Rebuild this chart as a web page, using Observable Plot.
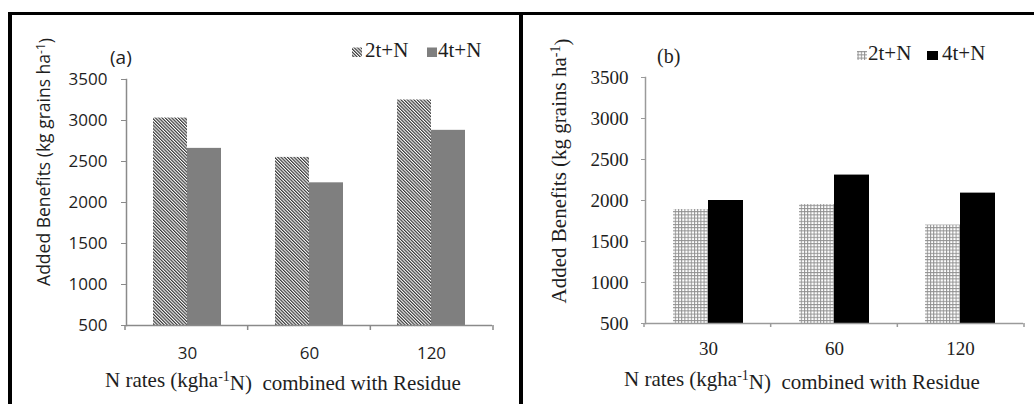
<!DOCTYPE html>
<html>
<head>
<meta charset="utf-8">
<script src="https://cdn.jsdelivr.net/npm/d3@7"></script>
<script src="https://cdn.jsdelivr.net/npm/@observablehq/plot@0.6"></script>
<style>
  html, body { margin: 0; padding: 0; background: #fff; }
  #wrap { position: relative; width: 1034px; height: 404px; overflow: hidden; background: #fff; }
  .panel { position: absolute; top: 0; }
  #overlay { position: absolute; left: 0; top: 0; pointer-events: none; }
</style>
</head>
<body>
<svg width="0" height="0" style="position:absolute">
  <defs>
    <pattern id="hatchA" patternUnits="userSpaceOnUse" width="2.3" height="2.3" patternTransform="rotate(-45)">
      <rect width="2.3" height="2.3" fill="#ffffff"></rect>
      <rect width="1.2" height="2.3" fill="#383838"></rect>
    </pattern>
    <pattern id="gridB" patternUnits="userSpaceOnUse" width="3.2" height="3.2">
      <rect width="3.2" height="3.2" fill="#ffffff"></rect>
      <path d="M0,0.5H3.2M0.5,0V3.2" stroke="#8f8f8f" stroke-width="1"></path>
    </pattern>
  </defs>
</svg>
<div id="wrap">
  <div id="panelA" class="panel" style="left:0px"></div>
  <div id="panelB" class="panel" style="left:517px"></div>
</div>
<script>
// ---- data ----
const categories = ["30", "60", "120"];
const series = ["2t+N", "4t+N"];
const benefitA2t = [3030, 2550, 3250];
const benefitA4t = [2660, 2240, 2880];
const benefitB2t = [1890, 1950, 1700];
const benefitB4t = [2000, 2310, 2090];
const yTicks = [500, 1000, 1500, 2000, 2500, 3000, 3500];
const panelLabels = ["(a)", "(b)"];
const yTitleParts = ["Added Benefits (kg grains ha", "-1", ")"];
const xTitleParts = ["N rates (kgha", "-1", "N)  combined with Residue"];

const SANS = "'Open Sans', 'DejaVu Sans', sans-serif";
const SERIF = "'Liberation Serif', 'DejaVu Serif', serif";

function makePanel(cfg) {
  const rows = categories.flatMap((c, i) => [
    {category: c, series: series[0], value: cfg.v2[i]},
    {category: c, series: series[1], value: cfg.v4[i]}
  ]);
  const plot = Plot.plot({
    width: cfg.width,
    height: 404,
    marginLeft: cfg.ml, marginRight: cfg.mr, marginTop: cfg.mt, marginBottom: cfg.mb,
    style: {fontFamily: cfg.font, fontSize: cfg.fontSize + "px", color: "#1e1e1e", background: "transparent", overflow: "visible"},
    fx: {domain: categories, padding: 0, label: null},
    x: {domain: series, paddingInner: 0, paddingOuter: cfg.po, axis: null},
    y: {domain: [500, 3500], axis: null},
    color: {domain: series, range: cfg.fills},
    marks: [
      Plot.barY(rows, {fx: "category", x: "series", y1: 500, y2: "value", fill: "series"}),
      Plot.ruleY([500], {stroke: cfg.axisColor, strokeWidth: 1.5}),
      Plot.frame({anchor: "left", facetAnchor: "left", stroke: cfg.axisColor, strokeWidth: 1.5}),
      Plot.axisY(yTicks, {tickSize: cfg.tickSize, tickPadding: cfg.tickPadding, stroke: cfg.axisColor, label: null, tickFormat: d => String(d)}),
      Plot.axisFx({anchor: "bottom", tickSize: 0, tickPadding: cfg.fxPad, label: null})
    ]
  });
  // boundary ticks of the category axis, derived from the fx scale
  const fxs = plot.scale("fx");
  const ys = plot.scale("y");
  const r0 = fxs.range[0], r1 = fxs.range[1];
  const step = (r1 - r0) / fxs.domain.length;
  const yb = ys.range[0];
  d3.select(plot).append("g")
    .attr("stroke", cfg.axisColor).attr("stroke-width", 1.5)
    .selectAll("line").data(d3.range(fxs.domain.length + 1)).join("line")
    .attr("x1", i => r0 + i * step).attr("x2", i => r0 + i * step)
    .attr("y1", yb).attr("y2", yb + cfg.tickSize);
  document.getElementById(cfg.el).appendChild(plot);
}

makePanel({
  el: "panelA", width: 517, ml: 125, mr: 24, mt: 79, mb: 79, po: 0.752,
  v2: benefitA2t, v4: benefitA4t, fills: ["url(#hatchA)", "#7f7f7f"],
  font: SANS, fontSize: 17, axisColor: "#8a8a8a", tickSize: 5, tickPadding: 14, fxPad: 21
});
makePanel({
  el: "panelB", width: 517, ml: 127, mr: 10, mt: 77, mb: 81, po: 0.76,
  v2: benefitB2t, v4: benefitB4t, fills: ["url(#gridB)", "#000000"],
  font: SERIF, fontSize: 19, axisColor: "#9a9a9a", tickSize: 4, tickPadding: 13, fxPad: 18
});

// ---- overlay: frame lines, panel labels, legends, axis titles ----
const ov = d3.select("#wrap").append("svg").attr("id", "overlay")
  .attr("width", 1034).attr("height", 404);

ov.append("rect").attr("x", 8).attr("y", 12).attr("width", 1026).attr("height", 3).attr("fill", "#000");
ov.append("rect").attr("x", 8).attr("y", 12).attr("width", 4).attr("height", 392).attr("fill", "#000");
ov.append("rect").attr("x", 519).attr("y", 12).attr("width", 4).attr("height", 392).attr("fill", "#000");

function supText(g, parts, attrs, supSize) {
  const t = g.append("text").style("white-space", "pre");
  for (const [k, v] of Object.entries(attrs)) t.attr(k, v);
  t.append("tspan").text(parts[0]);
  t.append("tspan").attr("dy", "-0.45em").attr("font-size", supSize).text(parts[1]);
  t.append("tspan").attr("dy", "0.45em").text(parts[2]);
  return t;
}

// panel (a)
ov.append("text").attr("x", 110).attr("y", 64).attr("font-family", SANS).attr("font-size", 19).attr("fill", "#1e1e1e").text(panelLabels[0]);
ov.append("rect").attr("x", 352).attr("y", 47.5).attr("width", 10).attr("height", 9.5).attr("fill", "url(#hatchA)");
ov.append("text").attr("x", 365).attr("y", 57).attr("font-family", SERIF).attr("font-size", 21).attr("fill", "#1e1e1e").text(series[0]);
ov.append("rect").attr("x", 427).attr("y", 47.5).attr("width", 10).attr("height", 9.5).attr("fill", "#7f7f7f");
ov.append("text").attr("x", 438).attr("y", 57).attr("font-family", SERIF).attr("font-size", 21).attr("fill", "#1e1e1e").text(series[1]);
supText(ov, yTitleParts, {transform: "translate(50,162) rotate(-90)", "text-anchor": "middle", "font-family": SANS, "font-size": 17.5, fill: "#1e1e1e"}, 12);
supText(ov, xTitleParts, {x: 105, y: 387, "font-family": SERIF, "font-size": 21, fill: "#1e1e1e"}, 14);

// panel (b)
ov.append("text").attr("x", 657).attr("y", 63).attr("font-family", SERIF).attr("font-size", 20).attr("fill", "#1e1e1e").text(panelLabels[1]);
ov.append("rect").attr("x", 857).attr("y", 51).attr("width", 10).attr("height", 9).attr("fill", "url(#gridB)");
ov.append("text").attr("x", 868).attr("y", 60).attr("font-family", SERIF).attr("font-size", 21).attr("fill", "#1e1e1e").text(series[0]);
ov.append("rect").attr("x", 927).attr("y", 51).attr("width", 11).attr("height", 9).attr("fill", "#000");
ov.append("text").attr("x", 942).attr("y", 60).attr("font-family", SERIF).attr("font-size", 21).attr("fill", "#1e1e1e").text(series[1]);
supText(ov, yTitleParts, {transform: "translate(566,171) rotate(-90)", "text-anchor": "middle", "font-family": SERIF, "font-size": 21, fill: "#1e1e1e"}, 14);
supText(ov, xTitleParts, {x: 624, y: 386, "font-family": SERIF, "font-size": 21, fill: "#1e1e1e"}, 14);
</script>
</body>
</html>
